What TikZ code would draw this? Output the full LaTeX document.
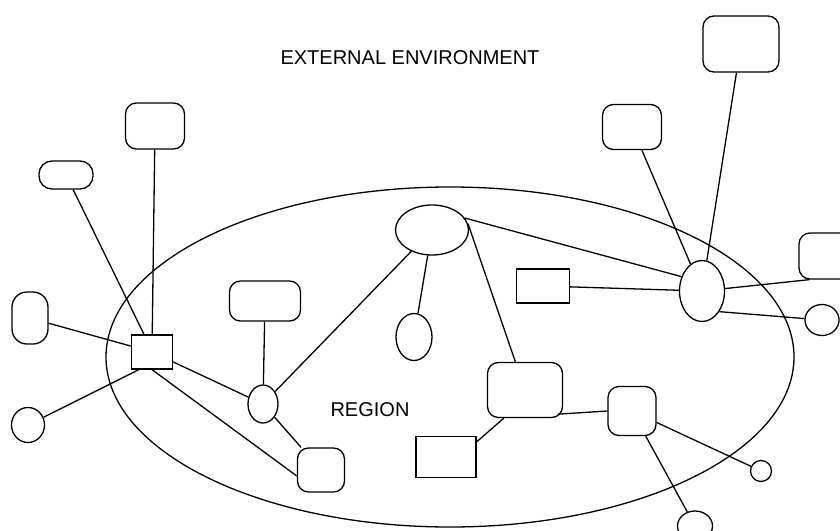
\documentclass[tikz,border=0pt]{standalone}
\usepackage{fontspec}
\setmainfont{Liberation Sans}
\usetikzlibrary{shapes.geometric}

\begin{document}
\begin{tikzpicture}[x=1pt,y=-1pt,line width=1.3pt,
  sqbox/.style={draw,rectangle,inner sep=0pt},
  rbox/.style={draw,rectangle,rounded corners=11pt,inner sep=0pt},
  oval/.style={draw,ellipse,inner sep=0pt},
  lbl/.style={font=\fontsize{20}{23}\selectfont}]
\useasboundingbox (0,0) rectangle (840,530);

\node[oval,minimum width=688pt,minimum height=340pt](region) at (450,357){};
\node[lbl](ext) at (410,58){EXTERNAL ENVIRONMENT};
\node[lbl](reg) at (370,410){REGION};

% left cluster
\node[sqbox,minimum width=41pt,minimum height=34pt](sq1) at (152,352){};
\node[rbox,minimum width=59pt,minimum height=46pt](tb1) at (155,126){};
\node[rbox,rounded corners=13pt,minimum width=54pt,minimum height=28pt](ov1) at (66,175){};
\node[rbox,rounded corners=15pt,minimum width=36pt,minimum height=52pt](ov2) at (30,318){};
\node[oval,minimum width=33pt,minimum height=35pt](c1) at (28,425){};
\node[rbox,minimum width=71pt,minimum height=40pt](rb2) at (265,301){};
\node[oval,minimum width=30pt,minimum height=38pt](e1) at (263,404){};
\node[rbox,minimum width=47pt,minimum height=44pt](rb3) at (321,470){};

% middle
\node[oval,minimum width=73pt,minimum height=50pt](e2) at (432,230){};
\node[oval,minimum width=36pt,minimum height=47pt](e3) at (414,337){};
\node[sqbox,minimum width=53pt,minimum height=34pt](r2) at (543,286){};
\node[rbox,minimum width=75pt,minimum height=55pt](rb5) at (525,390){};
\node[sqbox,minimum width=60pt,minimum height=41pt](r3) at (446,457){};
\node[rbox,minimum width=48pt,minimum height=49pt](rb6) at (632,411){};
\node[oval,minimum width=21pt,minimum height=21pt](c3) at (761,471){};
\node[oval,minimum width=35pt,minimum height=30pt](c4) at (695,526){};

% right cluster
\node[oval,minimum width=45pt,minimum height=61pt](e4) at (702,291){};
\node[rbox,minimum width=76pt,minimum height=56pt](tb2) at (741,44){};
\node[rbox,minimum width=59pt,minimum height=45pt](tb3) at (632,127){};
\node[rbox,minimum width=62pt,minimum height=46pt](rb4) at (830,256){};
\node[oval,minimum width=34pt,minimum height=31pt](c2) at (822,320){};

\draw(sq1)--(tb1);
\draw([xshift=-8pt]sq1.north)--(ov1);
\draw(sq1)--(ov2);
\draw([xshift=8pt]sq1.south west)--(c1);
\draw(sq1)--(e1);
\draw(sq1.south)--([yshift=-6pt]rb3.west);
\draw(rb2)--(e1);
\draw(e1)--(rb3);
\draw(e1)--(e2);
\draw(e2)--(e3);
\draw(e2.20)--(e4.145);
\draw(e2.10)--(rb5);
\draw(r2)--(e4);
\draw(e4)--(tb3);
\draw(e4)--(tb2);
\draw(e4)--([xshift=11pt]rb4.south west);
\draw(e4.-50)--(c2);
\draw([xshift=17pt]rb5.south west)--([yshift=-6pt]r3.north east);
\draw([xshift=-5pt,yshift=4pt]rb5.south east)--(rb6.west);
\draw(rb6)--(c3);
\draw(rb6)--(c4);
\end{tikzpicture}
\end{document}
